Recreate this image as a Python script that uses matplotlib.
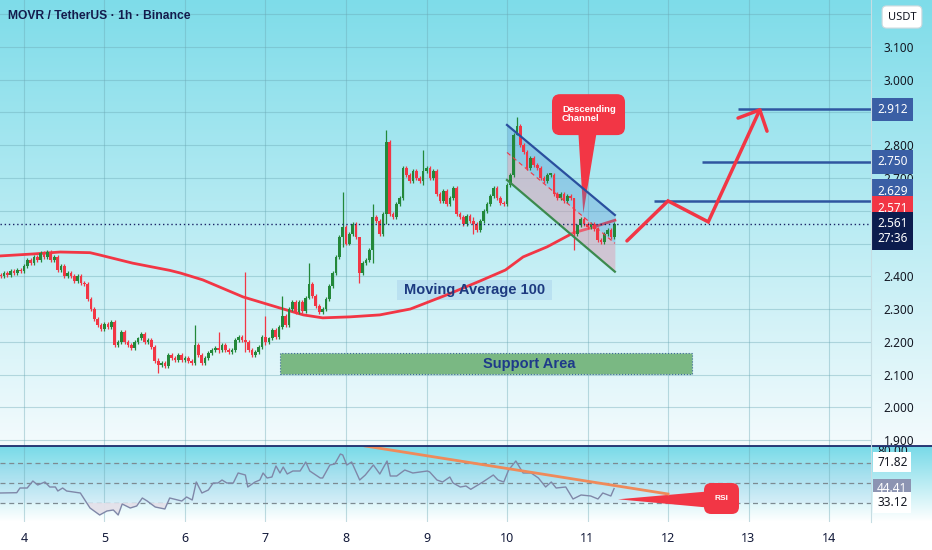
import numpy as np
import matplotlib
matplotlib.use("Agg")
import matplotlib.pyplot as plt
import matplotlib.transforms as mtransforms
from matplotlib.patches import FancyBboxPatch, Polygon, Rectangle
from matplotlib.lines import Line2D

plt.rcParams['font.family'] = ['Noto Sans', 'DejaVu Sans']

# ---------------- data ----------------
# hourly candles, first bar is the 17:00 bar of day 3
first_open = 2.405
closes = [
    2.40, 2.41, 2.405, 2.415, 2.41, 2.42, 2.415,
    2.43, 2.45, 2.44,
    2.46, 2.45, 2.47, 2.46, 2.475, 2.45,
    2.46, 2.42, 2.43, 2.40, 2.41,
    2.40, 2.385, 2.40, 2.38, 2.375,
    2.33, 2.30, 2.27, 2.25,
    2.24, 2.255, 2.245, 2.26,
    2.19, 2.20, 2.23, 2.20, 2.19, 2.18,
    2.20, 2.21, 2.225, 2.20, 2.205, 2.185,
    2.14, 2.13, 2.135, 2.125, 2.16, 2.15, 2.145, 2.16,
    2.145, 2.15, 2.14, 2.135,
    2.19, 2.16, 2.135,
    2.15, 2.165, 2.175,
    2.18, 2.175, 2.19, 2.175, 2.17, 2.175, 2.205,
    2.215, 2.205,
    2.20, 2.175, 2.16, 2.17,
    2.185, 2.215, 2.20, 2.21,
    2.235, 2.215, 2.245,
    2.28, 2.25, 2.30, 2.32, 2.29, 2.32, 2.295,
    2.335, 2.375, 2.34, 2.31,
    2.29, 2.30, 2.33,
    2.37, 2.41, 2.46, 2.52,
    2.55, 2.50,
    2.53, 2.56, 2.52,
    2.41, 2.44,
    2.45, 2.48, 2.58,
    2.57, 2.53, 2.59,
    2.81, 2.59,
    2.58, 2.62, 2.64, 2.73,
    2.71, 2.69, 2.72, 2.70, 2.69, 2.72,
    2.73, 2.70, 2.72, 2.65,
    2.63, 2.66, 2.62, 2.64, 2.67, 2.59,
    2.58, 2.56, 2.585, 2.57, 2.56, 2.54,
    2.57, 2.60, 2.62, 2.645, 2.67, 2.64,
    2.625, 2.62, 2.68, 2.71, 2.83,
    2.86, 2.80, 2.78, 2.73, 2.76, 2.74,
    2.73, 2.70, 2.69, 2.71, 2.71, 2.65,
    2.64, 2.65, 2.63, 2.645, 2.64, 2.53,
    2.555, 2.575, 2.56, 2.55, 2.56, 2.545, 2.51,
    2.505, 2.53, 2.54, 2.52, 2.561,
]
# candles with long wicks
spike_idx = [47, 58, 65, 73, 79, 84, 92, 102, 107, 111, 115, 126, 141, 154, 171]
spike_high = [2.15, 2.251, 2.23, 2.413, 2.28, 2.34, 2.44, 2.657, 2.52, 2.62,
              2.846, 2.785, 2.58, 2.886, 2.64]
spike_low = [2.105, 2.13, 2.165, 2.17, 2.19, 2.24, 2.33, 2.49, 2.38, 2.44,
             2.56, 2.68, 2.53, 2.83, 2.48]

ma_days = [3.70, 4.11, 4.45, 4.82, 4.94, 5.35, 5.81, 5.94, 6.22, 6.72, 7.18,
           7.47, 7.71, 8.05, 8.42, 8.80, 9.25, 9.66, 9.98, 10.20, 10.50,
           10.82, 11.03, 11.34]
ma_vals = [2.462, 2.468, 2.474, 2.472, 2.465, 2.440, 2.418, 2.410, 2.389,
           2.337, 2.303, 2.282, 2.273, 2.276, 2.282, 2.300, 2.343, 2.385,
           2.419, 2.459, 2.490, 2.532, 2.547, 2.571]

rsi_days = [3.70, 3.91, 3.95, 4.04, 4.11, 4.17, 4.26, 4.32, 4.39, 4.42, 4.48,
            4.53, 4.70, 4.82, 4.94, 5.03, 5.11, 5.17, 5.22, 5.32, 5.40, 5.47,
            5.53, 5.63, 5.75, 5.81, 5.96, 6.02, 6.09, 6.14, 6.21, 6.29, 6.35,
            6.41, 6.46, 6.52, 6.60, 6.66, 6.75, 6.78, 6.87, 6.93, 6.97, 7.02,
            7.08, 7.13, 7.18, 7.22, 7.27, 7.34, 7.43, 7.50, 7.55, 7.68, 7.71,
            7.80, 7.86, 7.93, 7.96, 8.01, 8.07, 8.17, 8.24, 8.34, 8.42, 8.51,
            8.55, 8.63, 8.73, 8.83, 9.01, 9.04, 9.13, 9.20, 9.29, 9.33, 9.42,
            9.49, 9.55, 9.70, 9.83, 9.89, 9.96, 10.02, 10.11, 10.20, 10.30,
            10.39, 10.48, 10.55, 10.61, 10.73, 10.82, 10.92, 11.04, 11.13,
            11.19, 11.29, 11.33]
rsi_vals = [40, 40.3, 45, 45, 52, 48, 51, 46, 46, 42, 45,
            42, 40, 25, 18, 22, 23, 18, 29, 25, 27, 35,
            32, 26, 24, 35, 32, 36, 33, 51, 40, 43, 50,
            50, 53, 50, 50, 60, 58, 46, 51, 53, 60, 55,
            56, 67, 60, 66, 59, 62, 62, 71, 62, 55, 55,
            68, 69, 79, 78, 68, 71, 53, 58, 68, 59, 72,
            57, 57, 63, 60, 62, 61, 53, 51, 56, 50, 46,
            47, 43.7, 51, 58, 53, 51, 63, 72, 60, 60,
            55, 46, 51, 45, 46, 34, 38, 37, 34,
            40, 37, 44.41]

last_price = 2.561
ma_last = 2.571
countdown = "27:36"
targets = [2.629, 2.750, 2.912]
target_from = [11.82, 12.42, 12.87]

support_days = (7.18, 12.30)
support_prices = (2.1015, 2.1656)

channel_days = (10.0, 11.34)
channel_upper = (2.862, 2.587)
channel_lower = (2.694, 2.414)

path_days = [11.49, 12.0, 12.5, 13.14]
path_prices = [2.508, 2.630, 2.566, 2.908]
head_days = [12.87, 13.14, 13.23]
head_prices = [2.883, 2.908, 2.843]

rsi_trend_days = (8.24, 12.0)
rsi_trend_vals = (87, 39)
rsi_marks = ["80.00", "71.82", "44.41", "33.12"]

day_ticks = list(range(4, 15))

# ---------------- styling ----------------
W, H = 932, 550
MAIN_BOTTOM = 446   # px from top
RSI_BOTTOM = 522
AXIS_X = 871
GREEN = '#23883a'
RED = '#f23645'
NAVY = '#1b2a6b'
BLUE_LINE = '#2f56a0'
TXT = '#131722'
ANN = 'Liberation Sans'

fig = plt.figure(figsize=(W / 100, H / 100), dpi=100)

# background gradients
bg = fig.add_axes([0, 0, 1, 1], zorder=-10)
bg.axis('off')
img = np.ones((H, 1, 3))
t = np.linspace(0, 1, MAIN_BOTTOM)[:, None]
top_c = np.array([126, 220, 233]) / 255
bot_c = np.array([244, 251, 253]) / 255
img[:MAIN_BOTTOM, 0, :] = top_c * (1 - t) + bot_c * t
n2 = RSI_BOTTOM - MAIN_BOTTOM
t2 = np.linspace(0, 1, n2)[:, None]
rtop = np.array([120, 218, 232]) / 255
rbot = np.array([255, 255, 255]) / 255
img[MAIN_BOTTOM:RSI_BOTTOM, 0, :] = rtop * (1 - t2) + rbot * t2
bg.imshow(img, aspect='auto', extent=[0, 1, 0, 1], origin='upper')
bg.set_xlim(0, 1)
bg.set_ylim(0, 1)

axw = AXIS_X / W
ax = fig.add_axes([0, 1 - MAIN_BOTTOM / H, axw, MAIN_BOTTOM / H])
rs = fig.add_axes([0, 1 - RSI_BOTTOM / H, axw, n2 / H])
for a in (ax, rs):
    a.patch.set_alpha(0)
    for s in a.spines.values():
        s.set_visible(False)

xlim = (3.7019, 14.5217)
ax.set_xlim(*xlim)
ax.set_ylim(1.8817, 3.2435)
rs.set_xlim(*xlim)
rs.set_ylim(11, 87)

# grid
grid_kw = dict(color='#6aa7b3', alpha=0.4, lw=0.8)
ax.set_xticks(day_ticks)
yt = np.round(np.arange(1.9, 3.25, 0.1), 1)
ax.set_yticks(yt)
ax.set_yticklabels(['' if v in (2.5, 2.6, 2.9, 3.2) else f'{v:.3f}' for v in yt])
ax.grid(True, **grid_kw)
ax.yaxis.tick_right()
ax.tick_params(axis='y', length=0, pad=9, labelsize=8.5, labelcolor=TXT)
ax.tick_params(axis='x', length=0, labelbottom=False)

rs.set_xticks(day_ticks)
rs.set_xticklabels([str(d) for d in day_ticks])
rs.set_yticks([])
rs.grid(True, axis='x', **grid_kw)
rs.tick_params(axis='x', length=0, pad=7, labelsize=9, labelcolor='#131a3a')
for lbl in rs.get_xticklabels():
    lbl.set_fontweight('bold')

# candles
c = np.array(closes)
o = np.r_[first_open, c[:-1]]
days = (4 - 7 / 24) + np.arange(len(c)) / 24
hi = np.maximum(o, c) + 0.006
lo = np.minimum(o, c) - 0.006
hi[spike_idx] = spike_high
lo[spike_idx] = spike_low
cols = np.where(c >= o, GREEN, RED)
ax.vlines(days, lo, hi, colors=cols, lw=0.9, zorder=4)
ax.bar(days, np.maximum(np.abs(c - o), 0.004), bottom=np.minimum(o, c),
       width=0.8 / 24, color=cols, lw=0, zorder=5)

# moving average
ax.plot(ma_days, ma_vals, color=RED, lw=2, zorder=3)
ax.add_patch(Rectangle((8.634, 2.3275), 1.925, 0.0611, fc='#b3dbef', ec='none',
                       alpha=0.7, zorder=2))
ax.text(9.596, 2.358, 'Moving Average 100', ha='center', va='center',
        family=ANN, fontsize=10.5, fontweight='bold', color='#1d3a80', zorder=7)

# support area
ax.add_patch(Rectangle((support_days[0], support_prices[0]),
                       support_days[1] - support_days[0],
                       support_prices[1] - support_prices[0],
                       fc='#7ab883', ec='#3d6a9a', ls=':', lw=0.8, zorder=2))
ax.text(10.273, 2.133, 'Support Area', ha='center', va='center', family=ANN,
        fontsize=10.5, fontweight='bold', color='#1e3a8a', zorder=7)

# descending channel
xs = np.array(channel_days)
up = np.array(channel_upper)
dn = np.array(channel_lower)
mid = (up + dn) / 2
ax.fill_between(xs, mid, up, color='#4f8fd0', alpha=0.32, lw=0, zorder=3)
ax.fill_between(xs, dn, mid, color='#e295ab', alpha=0.45, lw=0, zorder=3)
ax.plot(xs, up, color='#2a4f9e', lw=1.6, zorder=6)
ax.plot(xs, dn, color='#3b8a4e', lw=1.6, zorder=6)
ax.plot(xs, mid, color=RED, lw=0.8, ls=(0, (4, 3)), zorder=6)


def callout(a, box, tail, text, aspect, r, fs, tx, ty, ha='center'):
    a.add_patch(Polygon(tail, closed=True, fc=RED, ec='none', zorder=2.5))
    x0, y0, x1, y1 = box
    a.add_patch(FancyBboxPatch((x0, y0), x1 - x0, y1 - y0,
                               boxstyle=f'round,pad=0,rounding_size={r}',
                               mutation_aspect=aspect, fc=RED, ec='none',
                               zorder=8))
    a.text(tx, ty, text, ha=ha, va='center', family=ANN, fontsize=fs,
           fontweight='bold', color='white', linespacing=1.05, zorder=9)


callout(ax, (10.559, 2.831, 11.466, 2.956),
        [(10.886, 2.84), (11.114, 2.84), (10.948, 2.592)],
        'Descending\nChannel', 80.5 / 327.5, 0.1, 6.8, 10.683, 2.8954, ha='left')

# targets and projected path
ax.hlines(targets, target_from, xlim[1], color=BLUE_LINE, lw=1.8, zorder=6)
ax.axhline(last_price, color='#1a2466', lw=1, ls=(0, (1, 2)), zorder=6)
ax.plot(path_days, path_prices, color=RED, lw=2.5, solid_capstyle='round',
        solid_joinstyle='miter', zorder=7)
ax.plot(head_days, head_prices, color=RED, lw=2.5, solid_capstyle='round',
        zorder=7)

# price tags on the scale
tag_tr = mtransforms.blended_transform_factory(ax.transAxes, ax.transData)
tag_kw = dict(transform=tag_tr, ha='left', va='center', fontsize=8.5,
              color='white', clip_on=False, zorder=20)
tag_pos = {2.912: 2.909, 2.750: 2.749, 2.629: 2.660}
for v in targets:
    ax.text(1 + 6 / AXIS_X, tag_pos[v], f'{v:.3f}',
            bbox=dict(boxstyle='square,pad=0.45', fc='#3a5fa5', ec='none'), **tag_kw)
ax.text(1 + 6 / AXIS_X, 2.608, f'{ma_last:.3f}',
        bbox=dict(boxstyle='square,pad=0.45', fc=RED, ec='none'), **tag_kw)
ax.text(1 + 6 / AXIS_X, 2.538, f'{last_price:.3f}\n{countdown}', linespacing=1.15,
        bbox=dict(boxstyle='square,pad=0.45', fc='#0c1c4e', ec='none'), **tag_kw)

# RSI pane
rs.fill_between(xlim, 30, 70, color='#7b8fe0', alpha=0.08, lw=0)
for lvl in (70, 50, 30):
    rs.axhline(lvl, color='#7d8b92', lw=0.9, ls=(0, (4, 3)))
rd = np.array(rsi_days)
rv = np.array(rsi_vals)
rs.fill_between(rd, rv, 30, where=rv < 30, interpolate=True, color='#e4e1ea',
                alpha=0.95, lw=0, zorder=2)
rs.plot(rd, rv, color='#7f87a8', lw=1, zorder=3)
rs.plot(rsi_trend_days, rsi_trend_vals, color='#ef8a5a', lw=2, zorder=4)
callout(rs, (12.447, 19, 12.882, 50),
        [(11.379, 33.7), (12.46, 41.3), (12.46, 25.7)],
        'RSI', 80.5, 0.09, 6, 12.665, 35)

rtag_tr = mtransforms.blended_transform_factory(rs.transAxes, rs.transData)
rkw = dict(transform=rtag_tr, ha='left', va='center', fontsize=8.5,
           clip_on=False, zorder=20)
rs.text(1 + 6 / AXIS_X, 81.5, rsi_marks[0], color=TXT, **rkw)
rs.text(1 + 6 / AXIS_X, 71.0, rsi_marks[1], color=TXT,
        bbox=dict(boxstyle='square,pad=0.3', fc='white', ec='none'), **rkw)
rs.text(1 + 6 / AXIS_X, 44.0, rsi_marks[2], color='white',
        bbox=dict(boxstyle='square,pad=0.3', fc='#8c94b2', ec='none'), **rkw)
rs.text(1 + 6 / AXIS_X, 30.5, rsi_marks[3], color=TXT,
        bbox=dict(boxstyle='square,pad=0.3', fc='white', ec='none'), **rkw)

# separators, title, currency box
fig.add_artist(Line2D([0, 1], [1 - MAIN_BOTTOM / H] * 2, color=NAVY, lw=1.3))
fig.add_artist(Line2D([axw, axw], [1 - RSI_BOTTOM / H, 1], color='#c6dde3', lw=0.8))
fig.text(8 / W, 1 - 16 / H, 'MOVR / TetherUS · 1h · Binance', ha='left',
         va='center', family=ANN, fontsize=8.7, fontweight='bold', color='#131c4d')
fig.text(902 / W, 1 - 17 / H, 'USDT', ha='center', va='center', fontsize=8,
         color=TXT, bbox=dict(boxstyle='round,pad=0.5,rounding_size=0.4',
                              fc='white', ec='#d0dade', lw=0.8))

fig.savefig('out.png', dpi=100)
